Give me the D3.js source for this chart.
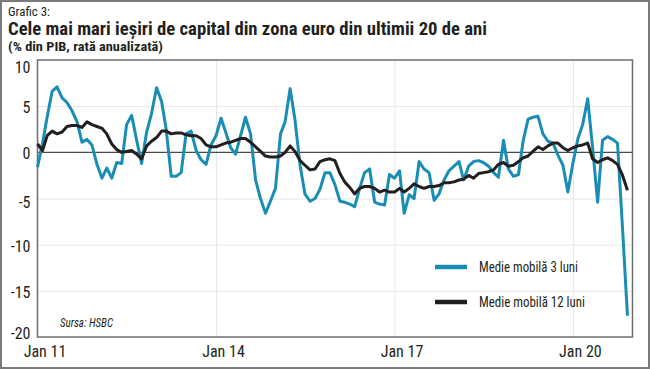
<!DOCTYPE html>
<html><head><meta charset="utf-8">
<script src="https://cdn.jsdelivr.net/npm/d3@7"></script>
<style>
html,body{margin:0;padding:0;background:#fff;}
svg{display:block;}
.cf{font-family:"Liberation Sans Narrow","Roboto Condensed","Roboto","Open Sans",sans-serif;}
</style></head>
<body>
<script>
// ---- data ----
const startMonth = "2011-01";
const nMonths = 120;
const blue3m = [
 -1.6, 1.0, 3.8, 6.6, 7.1, 5.9, 5.4, 4.5, 3.3, 1.1,
  1.4, 0.8,-1.3,-2.8,-1.7,-2.8,-1.1,-1.2, 3.0, 4.0,
  1.3,-1.2, 2.2, 4.2, 7.0, 5.5, 2.5,-2.6,-2.6,-2.2,
  2.0, 2.3, 0.2,-0.8,-1.3, 0.8, 1.8, 3.7, 2.2, 0.5,
 -0.2, 1.8, 3.8, 2.0,-3.0,-5.0,-6.6,-5.3,-3.9, 2.0,
  3.3, 6.9, 3.5,-1.4,-4.5,-5.3,-5.0,-4.0,-2.2,-2.2,
 -3.5,-5.3,-5.4,-5.6,-5.9,-3.9,-2.2,-1.8,-5.4,-5.6,
 -5.7,-2.4,-2.8,-2.0,-6.6,-4.6,-5.0,-1.0,-1.8,-2.2,
 -5.2,-4.5,-3.0,-2.0,-1.5,-1.0,-3.0,-1.5,-1.0,-0.9,
 -1.1,-1.5,-2.2,-2.7, 1.3,-1.8,-2.6,-2.4, 1.2, 3.6,
  3.8, 3.9, 2.0, 1.2, 1.0,-0.3,-1.4,-4.3,-1.2, 1.5,
  3.0, 5.8, 0.5,-5.4, 1.3, 1.7, 1.4, 1.0,-8.3,-17.7
];
const black12m = [
  0.9, 0.2, 1.8, 2.3, 2.0, 2.2, 2.8, 2.9, 2.9, 2.7,
  3.3, 3.0, 2.8, 2.6, 2.0, 0.9, 0.3, 0.0, 0.1, 0.2,
 -0.2,-0.7, 0.7, 1.2, 1.6, 2.3, 2.3, 2.0, 2.1, 2.1,
  1.9, 1.8, 1.8, 1.5, 0.8, 0.6, 0.6, 0.8, 1.0, 1.1,
  1.3, 1.5, 1.5, 1.1, 0.6, 0.1,-0.4,-0.5,-0.5,-0.4,
  0.0, 0.7, 0.1,-0.9,-1.4,-1.9,-1.8,-1.0,-0.8,-0.7,
 -0.9,-2.3,-3.2,-3.8,-4.5,-3.9,-3.7,-3.7,-3.9,-4.3,
 -4.1,-4.3,-4.3,-3.9,-4.3,-3.9,-3.4,-3.7,-3.9,-3.7,
 -3.7,-3.6,-3.3,-3.3,-3.2,-3.0,-2.9,-2.5,-2.8,-2.3,
 -2.2,-2.1,-1.9,-1.3,-1.1,-1.5,-1.4,-1.0,-0.6,-0.4,
  0.1, 0.6, 0.3, 0.7, 1.0, 1.0, 0.5, 0.2, 0.5, 0.7,
  0.8, 1.0,-0.7,-1.1,-0.8,-0.6,-0.9,-1.3,-2.5,-4.1
];
const yTicks = [10, 5, 0, -5, -10, -15, -20];
const xTickDates = ["2011-01", "2014-01", "2017-01", "2020-01"];
const xTickLabels = ["Jan 11", "Jan 14", "Jan 17", "Jan 20"];
const seriesNames = ["Medie mobilă 3 luni", "Medie mobilă 12 luni"];
const seriesColors = ["#1a8db5", "#231f20"];
const titleSmall = "Grafic 3:";
const titleMain = "Cele mai mari ieșiri de capital din zona euro din ultimii 20 de ani";
const titleSub = "(% din PIB, rată anualizată)";
const sourceText = "Sursa: HSBC";

// ---- build ----
const W = 650, H = 369;
const parseM = d3.timeParse("%Y-%m");
const months = d3.timeMonth.range(parseM(startMonth), d3.timeMonth.offset(parseM(startMonth), nMonths));
const P = {left: 37.5, right: 632.5, top: 60, bottom: 337};

const svg = d3.select("body").append("svg").attr("width", W).attr("height", H);

const x = d3.scaleTime()
  .domain([parseM(startMonth), d3.timeMonth.offset(parseM(startMonth), nMonths)])
  .range([P.left, P.right]);
const y = d3.scaleLinear().domain([-20, 10]).range([P.bottom, P.top]);

// outer frame
svg.append("rect").attr("x", 1).attr("y", 1).attr("width", W - 2).attr("height", H - 2)
  .attr("fill", "none").attr("stroke", "#7a7a7a").attr("stroke-width", 2);

// titles
const tg = svg.append("g").attr("class", "cf").attr("fill", "#231f20");
tg.append("text").attr("x", 8).attr("y", 15.5).attr("font-size", 12.5)
  .attr("textLength", 42).attr("lengthAdjust", "spacingAndGlyphs").text(titleSmall);
tg.append("text").attr("x", 8).attr("y", 34.5).attr("font-size", 17.5).attr("font-weight", "bold")
  .attr("textLength", 479).attr("lengthAdjust", "spacingAndGlyphs").text(titleMain);
tg.append("text").attr("x", 8).attr("y", 51).attr("font-size", 12.5).attr("font-weight", "bold")
  .attr("textLength", 155).attr("lengthAdjust", "spacingAndGlyphs").text(titleSub);

// horizontal grid
const gy = svg.append("g").attr("transform", `translate(${P.left},0)`)
  .call(d3.axisLeft(y).tickValues(yTicks.filter(v => v !== 0 && v !== 10 && v !== -20))
    .tickSize(-(P.right - P.left)).tickFormat(""));
gy.select(".domain").remove();
gy.selectAll("line").attr("stroke", "#e6e6e6").attr("stroke-width", 1);

// vertical grid
const gx = svg.append("g").attr("transform", `translate(0,${P.bottom})`)
  .call(d3.axisBottom(x).tickValues(xTickDates.slice(1).map(parseM))
    .tickSize(-(P.bottom - P.top)).tickFormat(""));
gx.select(".domain").remove();
gx.selectAll("line").attr("stroke", "#e6e6e6").attr("stroke-width", 1);

// zero line
svg.append("line").attr("x1", P.left).attr("x2", P.right).attr("y1", y(0)).attr("y2", y(0))
  .attr("stroke", "#4a4a4a").attr("stroke-width", 1.2);

// plot frame
svg.append("rect").attr("x", P.left).attr("y", P.top).attr("width", P.right - P.left)
  .attr("height", P.bottom - P.top).attr("fill", "none").attr("stroke", "#6e6e6e").attr("stroke-width", 1.5);

// y axis labels (top/bottom labels nudged inside like the reference)
const ay = svg.append("g").attr("transform", `translate(${P.left},0)`)
  .call(d3.axisLeft(y).tickValues(yTicks).tickSize(0).tickPadding(7).tickFormat(d => String(d)));
ay.select(".domain").remove();
ay.selectAll("text").attr("class", "cf").attr("font-size", 16).attr("fill", "#231f20")
  .attr("font-family", null)
  .attr("dy", d => d === 10 ? "0.75em" : (d === -20 ? "0.1em" : (d === -5 ? "0.55em" : "0.4em")));

// x axis labels
const ax = svg.append("g").attr("transform", `translate(0,${P.bottom})`)
  .call(d3.axisBottom(x).tickValues(xTickDates.map(parseM)).tickSize(0).tickPadding(9)
    .tickFormat((d, i) => xTickLabels[i]));
ax.select(".domain").remove();
ax.selectAll("text").attr("class", "cf").attr("font-size", 16).attr("fill", "#231f20")
  .attr("font-family", null).attr("dx", 7);

// lines
const line = d3.line().x((d, i) => x(months[i])).y(d => y(d)).curve(d3.curveLinear);
[blue3m, black12m].forEach((s, k) => {
  svg.append("path").datum(s).attr("d", line).attr("fill", "none")
    .attr("stroke", seriesColors[k]).attr("stroke-width", 3).attr("stroke-linejoin", "round");
});

// legend
const lg = svg.append("g").attr("class", "cf");
const legY = [267, 302];
const legW = [99, 106];
seriesNames.forEach((n, k) => {
  lg.append("line").attr("x1", 435).attr("x2", 467).attr("y1", legY[k]).attr("y2", legY[k])
    .attr("stroke", seriesColors[k]).attr("stroke-width", 4.5);
  lg.append("text").attr("x", 479).attr("y", legY[k]).attr("dy", "0.35em").attr("font-size", 15)
    .attr("fill", "#231f20").attr("textLength", legW[k]).attr("lengthAdjust", "spacingAndGlyphs").text(n);
});

// source
svg.append("text").attr("class", "cf").attr("x", 60).attr("y", 327).attr("font-size", 13)
  .attr("font-style", "italic").attr("fill", "#231f20")
  .attr("textLength", 53).attr("lengthAdjust", "spacingAndGlyphs").text(sourceText);
</script>
</body></html>
